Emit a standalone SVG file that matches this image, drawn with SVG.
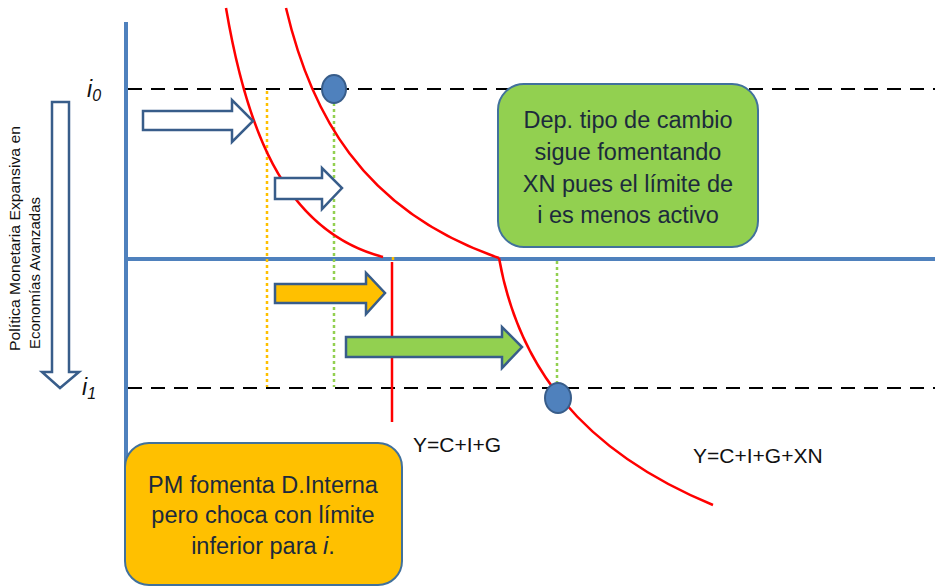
<svg xmlns="http://www.w3.org/2000/svg" width="935" height="587" viewBox="0 0 935 587">
<style>
.axis{stroke:#4F81BD;stroke-width:4;fill:none}
.dash{stroke:#000;stroke-width:2;stroke-dasharray:14 9;fill:none}
.curve{stroke:#FF0000;stroke-width:2.5;fill:none}
.dotY{stroke:#FFC000;stroke-width:2.5;stroke-dasharray:3 3;fill:none}
.dotG{stroke:#92D050;stroke-width:2.5;stroke-dasharray:3 3;fill:none}
.arr{stroke:#385D8A;stroke-width:2.5;stroke-linejoin:miter}
.dot{fill:#4F81BD;stroke:#385D8A;stroke-width:2}
.box{stroke:#41719C;stroke-width:2}
.btxt{font-family:"Liberation Sans",Arial,sans-serif;font-size:23.5px;fill:#1C2A3C;text-anchor:middle}
.lbl{font-family:"Liberation Sans",Arial,sans-serif;font-size:21px;fill:#111}
.side{font-family:"Liberation Sans",Arial,sans-serif;font-size:14px;fill:#111}
.ital{font-family:"Liberation Sans",Arial,sans-serif;font-style:italic;fill:#111}
</style>
<g id="axes">
<line class="axis" x1="126" y1="22" x2="126" y2="520"/>
<line class="axis" x1="126" y1="259" x2="935" y2="259"/>
</g>
<g id="guides">
<line class="dash" x1="128" y1="89" x2="935" y2="89"/>
<line class="dash" x1="128" y1="388" x2="935" y2="388"/>
<line class="dotY" x1="267" y1="91" x2="267" y2="387"/>
<line class="dotG" x1="334" y1="103" x2="334" y2="387"/>
<line class="dotG" x1="557" y1="261" x2="557" y2="384"/>
<line class="dotY" x1="393" y1="257" x2="393" y2="263"/>
</g>
<g id="connectors">
<path class="curve" d="M226,8 C245,120 280,230 383,257"/>
<line class="curve" x1="392" y1="262" x2="392" y2="422"/>
<path class="curve" d="M286,8 C310,110 360,210 499,258"/>
<path class="curve" d="M499,258 C518,365 580,450 713,505"/>
</g>
<g id="point-i0"><ellipse class="dot" cx="334" cy="89" rx="12" ry="14"/></g>
<g id="point-i1"><ellipse class="dot" cx="558" cy="398" rx="13" ry="15"/></g>
<g id="arrow1"><polygon class="arr" fill="#fff" points="143,111 232,111 232,100 253,121 232,142 232,130 143,130"/></g>
<g id="arrow2"><polygon class="arr" fill="#fff" points="275,178 322,178 322,168 342,188 322,209 322,199 275,199"/></g>
<g id="arrow3"><polygon class="arr" fill="#FFC000" points="275,284 366,284 366,273 385,293 366,314 366,303 275,303"/></g>
<g id="arrow4"><polygon class="arr" fill="#92D050" points="346,337 502,337 502,327 522,347 502,368 502,357 346,357"/></g>
<g id="down-arrow"><polygon class="arr" fill="#fff" points="52,102 69,102 69,372 79,372 60,388 42,372 52,372"/></g>
<g id="side-label">
<text class="side" transform="translate(20,351) rotate(-90)" textLength="225" lengthAdjust="spacingAndGlyphs">Política Monetaria  Expansiva en</text>
<text class="side" transform="translate(40,349) rotate(-90)" textLength="152" lengthAdjust="spacingAndGlyphs">Economías Avanzadas</text>
</g>
<g id="label-i0"><text class="ital" x="87" y="97" font-size="23">i<tspan font-size="16" dy="4">0</tspan></text></g>
<g id="label-i1"><text class="ital" x="82" y="395" font-size="23">i<tspan font-size="16" dy="4">1</tspan></text></g>
<g id="label-ycig"><text class="lbl" x="413" y="452">Y=C+I+G</text></g>
<g id="label-ycigxn"><text class="lbl" x="693" y="463">Y=C+I+G+XN</text></g>
<g id="box-green">
<rect class="box" x="498" y="84" width="260" height="163" rx="26" fill="#92D050"/>
<text class="btxt" x="628" y="128">Dep. tipo de cambio</text>
<text class="btxt" x="628" y="160">sigue fomentando</text>
<text class="btxt" x="628" y="192">XN pues el límite de</text>
<text class="btxt" x="628" y="223">i es menos activo</text>
</g>
<g id="box-orange">
<rect class="box" x="125" y="443" width="277" height="142" rx="24" fill="#FFC000"/>
<text class="btxt" x="263" y="493">PM fomenta D.Interna</text>
<text class="btxt" x="263" y="523">pero choca con límite</text>
<text class="btxt" x="263" y="554">inferior para <tspan font-style="italic">i</tspan>.</text>
</g>
</svg>
